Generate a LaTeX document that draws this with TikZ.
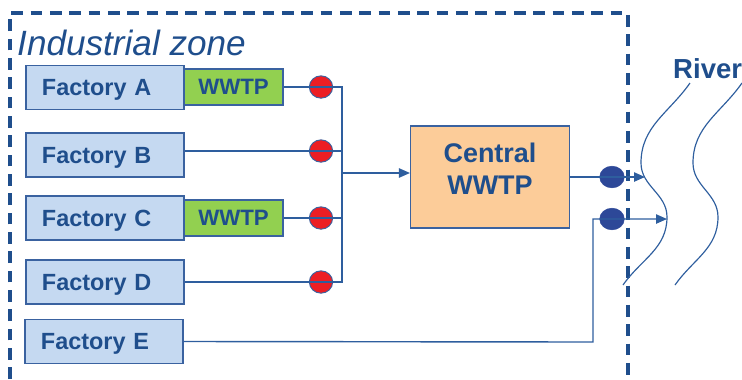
\documentclass[tikz,border=0pt]{standalone}
\usepackage{fontspec}
\setmainfont{Liberation Sans}
\usetikzlibrary{arrows.meta,shapes.geometric}
\definecolor{zoneblue}{RGB}{31,78,140}
\definecolor{pipeblue}{RGB}{46,94,158}
\definecolor{boxedge}{RGB}{58,98,160}
\definecolor{factfill}{RGB}{197,217,241}
\definecolor{wwtpgreen}{RGB}{146,208,80}
\definecolor{valvered}{RGB}{236,30,36}
\definecolor{plantorange}{RGB}{252,204,153}
\definecolor{outletblue}{RGB}{45,72,152}
\tikzset{
  % boxes
  factory/.style={draw=boxedge, fill=factfill, line width=0.9pt, text=zoneblue,
    font=\bfseries\fontsize{20}{24}\selectfont, minimum height=1.32cm,
    text width=3.78cm, inner xsep=0.48cm, inner ysep=0pt, align=left,
    text depth=0pt},
  pretreat/.style={draw=boxedge, fill=wwtpgreen, line width=0.9pt, text=zoneblue,
    font=\bfseries\fontsize{19}{23}\selectfont, minimum width=2.97cm,
    minimum height=1.08cm, inner sep=0pt},
  plant/.style={draw=boxedge, fill=plantorange, line width=0.9pt, text=zoneblue,
    font=\bfseries\fontsize{23}{28}\selectfont, minimum width=4.77cm,
    minimum height=3.06cm, inner sep=0pt, align=center, text depth=0.5cm},
  % sampling points on the pipes
  valve/.style={ellipse, draw=boxedge, fill=valvered, line width=0.8pt,
    minimum width=0.7cm, minimum height=0.67cm, inner sep=0pt},
  outlet/.style={ellipse, draw=outletblue, fill=outletblue,
    minimum width=0.74cm, minimum height=0.65cm, inner sep=0pt},
  pipe/.style={draw=pipeblue, line width=1.2pt},
  feed/.style={pipe, -{Triangle[length=0.33cm, width=0.28cm]}},
  bank/.style={draw=pipeblue, line width=1pt},
  zone/.style={draw=zoneblue, line width=2.8pt, dash pattern=on 10pt off 6.5pt},
  tag/.style={text=zoneblue, inner sep=0pt, anchor=base west},
}

\begin{document}
\begin{tikzpicture}[x=0.03cm, y=-0.03cm]
  \useasboundingbox (0,0) rectangle (742,379);

  % industrial zone boundary
  \draw[zone] (10,379) -- (10,13) -- (628,13) -- (628,379);
  \node[tag, font=\itshape\fontsize{30}{36}\selectfont] (zonelabel) at (17,55) {Industrial zone};

  \node[factory] (fA) at (105,87.5) {Factory A};
  \node[factory] (fB) at (105,155) {Factory B};
  \node[factory] (fC) at (105,218) {Factory C};
  \node[factory] (fD) at (105,282) {Factory D};
  \node[factory] (fE) at (104,341.5) {Factory E};

  \node[pretreat] (wA) at (233.5,87) {WWTP};
  \node[pretreat] (wC) at (233.5,218) {WWTP};

  \node[valve] (vA) at (321,87) {};
  \node[valve] (vB) at (321,151) {};
  \node[valve] (vC) at (321,218) {};
  \node[valve] (vD) at (321,282) {};

  \node[plant] (central) at (490,177) {Central\\WWTP};

  % collector pipe
  \coordinate (bus) at (342,173);
  \draw[pipe] (wA.east |- vA) -- (vA.center) -- (vA -| bus) -- (vD -| bus)
    -- (vD.center) -- (vD -| fD.east);
  \draw[pipe] (vB -| fB.east) -- (vB.center) -- (vB -| bus);
  \draw[pipe] (wC.east |- vC) -- (vC.center) -- (vC -| bus);
  \draw[feed] (bus) -- (bus -| central.west);

  % discharge points
  \node[outlet] (oC) at (612,177) {};
  \node[outlet] (oE) at (612,219) {};
  \coordinate (bankA) at (645,177);
  \coordinate (bankB) at (667,219);
  \coordinate (riser) at (593,342);
  \draw[feed] (central.east |- oC) -- (oC.center) -- (bankA);
  \draw[feed] (fE.east) -- (riser) -- (riser |- oE) -- (oE.center) -- (bankB);

  % river banks
  \draw[bank] (690,83) to[out=235,in=90] (641,163) to[out=270,in=90] (667,217)
    to[out=270,in=55] (623,285);
  \draw[bank] (742,83) to[out=235,in=90] (693,163) to[out=270,in=90] (718,217)
    to[out=270,in=55] (675,285);
  \node[tag, font=\bfseries\fontsize{23.5}{28}\selectfont] (river) at (673,78) {River};

\end{tikzpicture}
\end{document}
